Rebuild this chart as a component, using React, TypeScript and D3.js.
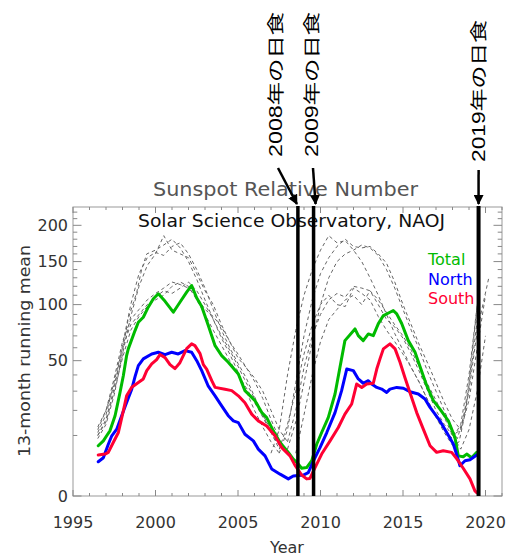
import React from 'react';
import * as d3 from 'd3';

type P = [number, number];

// ---- Data: 13-month running mean (year, value) ----
const totalSeries: P[] = [
  [1996.53, 6.9], [1996.84, 8.3], [1997.04, 9.9], [1997.24, 11.6], [1997.55, 17.6], [1997.85, 29.3],
  [1998.05, 39.5], [1998.25, 53.8], [1998.35, 59.1], [1998.76, 74.7], [1998.96, 82.4], [1999.26, 87.2],
  [1999.56, 97.3], [1999.87, 106.2], [2000.17, 111.6], [2000.58, 103.5], [2001.08, 92.2], [2001.48, 102.5],
  [2001.89, 113.4], [2002.19, 121], [2002.5, 107], [2002.8, 98], [2003.2, 79.3], [2003.61, 61.7],
  [2004.01, 53.8], [2004.41, 48.8], [2005.02, 40.6], [2005.42, 30.3], [2006.03, 24.8], [2006.44, 19.0],
  [2006.74, 16.8], [2007.14, 11.6], [2007.55, 7.8], [2008.05, 5.2], [2008.35, 3.7], [2008.56, 3.1],
  [2008.86, 2.1], [2009.16, 2.2], [2009.47, 3.4], [2009.77, 7.3], [2010.07, 11.0], [2010.47, 16.8],
  [2010.88, 28.4], [2011.18, 45.2], [2011.48, 65.9], [2012.09, 76.2], [2012.29, 70.2], [2012.59, 65.9],
  [2012.9, 71.7], [2013.2, 70.2], [2013.5, 80.9], [2013.81, 88.9], [2014.21, 92.2], [2014.41, 93.9],
  [2014.62, 90.6], [2014.92, 81.2], [2015.32, 65.9], [2015.73, 56.4], [2016.03, 45.7], [2016.44, 33.2],
  [2016.84, 24.8], [2017.24, 20.6], [2017.75, 15.4], [2018.15, 9.3], [2018.35, 4.4], [2018.65, 4.2],
  [2018.86, 4.8], [2019.16, 4.0], [2019.47, 5.2]
];

const northSeries: P[] = [
  [1996.53, 3.2], [1996.84, 4.0], [1997.14, 7.3], [1997.35, 9.9], [1997.65, 12.2], [1997.95, 17.6],
  [1998.25, 23.9], [1998.56, 31.2], [1998.76, 38.9], [1998.96, 46.4], [1999.26, 51.3], [1999.77, 55.1],
  [2000.17, 56.4], [2000.58, 54.6], [2000.98, 56.4], [2001.38, 55.1], [2001.79, 57.7], [2002.19, 56.4],
  [2002.5, 50], [2002.8, 42.9], [2003.2, 32.9], [2003.61, 27.4], [2004.01, 22.2], [2004.41, 17.6],
  [2004.72, 15.4], [2005.02, 14.7], [2005.42, 10.4], [2005.93, 8.3], [2006.23, 6.0], [2006.64, 4.4],
  [2007.04, 2.0], [2007.55, 1.3], [2008.05, 0.8], [2008.35, 1.1], [2008.96, 1.2], [2009.26, 1.5],
  [2009.56, 3.3], [2009.97, 6.4], [2010.38, 11.0], [2010.88, 19.0], [2011.28, 30.3], [2011.59, 44.0],
  [2011.99, 42.9], [2012.29, 37.4], [2012.59, 34.7], [2012.9, 36.3], [2013.1, 34.2], [2013.41, 32.2],
  [2013.71, 31.2], [2014.01, 29.3], [2014.21, 31.2], [2014.62, 32.2], [2015.02, 31.7], [2015.42, 29.7],
  [2015.93, 28.4], [2016.33, 25.7], [2016.64, 21.4], [2017.24, 15.4], [2017.65, 11.0], [2018.05, 7.4],
  [2018.35, 3.6], [2018.45, 2.5], [2018.76, 3.4], [2019.06, 3.6], [2019.47, 4.6]
];

const southSeries: P[] = [
  [1996.53, 4.6], [1996.94, 4.8], [1997.14, 5.2], [1997.44, 7.8], [1997.75, 11.0], [1998.05, 19.8],
  [1998.25, 27.4], [1998.56, 32.3], [1998.96, 35.2], [1999.26, 37.4], [1999.47, 42.9], [1999.77, 47.6],
  [2000.07, 50.8], [2000.27, 54.6], [2000.58, 52.3], [2000.88, 47.1], [2001.18, 44.3], [2001.48, 48.5],
  [2001.89, 59.3], [2002.19, 63.2], [2002.39, 61.7], [2002.7, 55.3], [2002.9, 47.1], [2003.1, 44.0],
  [2003.41, 36.3], [2003.61, 32.2], [2004.21, 31.1], [2004.62, 30.3], [2005.02, 27.4], [2005.42, 23.7],
  [2005.83, 18.3], [2006.23, 15.4], [2006.74, 13.4], [2007.24, 9.9], [2007.65, 6.4], [2008.15, 4.4],
  [2008.45, 2.6], [2008.86, 1.2], [2009.16, 0.8], [2009.36, 0.84], [2009.67, 2.2], [2010.07, 4.8],
  [2010.58, 8.3], [2011.08, 12.8], [2011.48, 18.3], [2011.89, 23.1], [2012.19, 34.2], [2012.5, 32.2],
  [2012.8, 34.2], [2013.2, 34.7], [2013.41, 44.0], [2013.61, 51.5], [2013.81, 59.1], [2014.21, 63.2],
  [2014.52, 59.1], [2014.82, 48.8], [2015.12, 38.2], [2015.42, 29.3], [2015.83, 19.0], [2016.23, 12.2],
  [2016.64, 6.9], [2017.04, 5.2], [2017.44, 5.6], [2017.95, 5.2], [2018.25, 3.8], [2018.65, 2.1],
  [2019.06, 0.8], [2019.36, 0.07], [2019.47, 0.03]
];

// ---- Past cycles (gray dashed), first group ----
const pastA1: P[] = [[1996.5, 12], [1997, 20], [1997.5, 34], [1997.85, 47], [1998.1, 65], [1998.35, 86], [1998.86, 113], [1999.16, 140], [1999.47, 160], [2000, 165], [2000.5, 172], [2001, 180], [2001.5, 168], [2002, 150], [2002.5, 128], [2003, 105], [2003.5, 85], [2004, 68], [2004.5, 55], [2005, 42], [2005.5, 30], [2006, 20], [2006.5, 13], [2007, 8], [2007.5, 5]];
const pastA2: P[] = [[1996.5, 10], [1997, 16], [1997.5, 32], [1998, 62], [1998.5, 100], [1999, 135], [1999.5, 155], [2000, 162], [2000.5, 158], [2001, 170], [2001.5, 175], [2002, 160], [2002.5, 140], [2003, 118], [2003.5, 95], [2004, 75], [2004.5, 60], [2005, 48], [2005.5, 38], [2006, 27], [2006.5, 18], [2007, 11], [2007.5, 7]];
const pastA3: P[] = [[1996.5, 9], [1997, 14], [1997.5, 28], [1998, 55], [1998.5, 88], [1999, 120], [1999.5, 145], [2000, 160], [2000.5, 185], [2001, 165], [2001.5, 160], [2002, 155], [2002.5, 135], [2003, 115], [2003.5, 100], [2004, 80], [2004.5, 65], [2005, 52], [2005.5, 45], [2006, 38], [2006.5, 30], [2007, 20], [2007.5, 12], [2008, 8]];
const pastA4: P[] = [[1996.5, 11], [1997, 18], [1997.5, 36], [1998, 60], [1998.5, 80], [1999, 90], [1999.5, 100], [2000, 108], [2000.5, 115], [2001, 112], [2001.5, 118], [2002, 125], [2002.5, 115], [2003, 100], [2003.5, 85], [2004, 70], [2004.5, 58], [2005, 46], [2005.5, 35], [2006, 26], [2006.5, 18], [2007, 12], [2007.5, 8]];
const pastA5: P[] = [[1996.5, 13], [1997, 20], [1997.5, 38], [1998, 65], [1998.5, 85], [1999, 95], [1999.5, 105], [2000, 112], [2000.5, 118], [2001, 125], [2001.5, 122], [2002, 118], [2002.5, 108], [2003, 95], [2003.5, 88], [2004, 78], [2004.5, 65], [2005, 55], [2005.5, 45], [2006, 36], [2006.5, 26], [2007, 16], [2007.5, 9]];
const pastA6: P[] = [[1996.5, 10], [1997, 15], [1997.5, 30], [1998, 52], [1998.5, 75], [1999, 88], [1999.5, 98], [2000, 105], [2000.5, 110], [2001, 120], [2001.5, 125], [2002, 120], [2002.5, 105], [2003, 90], [2003.5, 75], [2004, 62], [2004.5, 50], [2005, 40], [2005.5, 32], [2006, 24], [2006.5, 17], [2007, 11], [2007.5, 6]];

// ---- Past cycles (gray dashed), second group ----
const pastB1: P[] = [[2007, 5], [2007.5, 12], [2008, 40], [2008.5, 75], [2009, 110], [2009.5, 140], [2010, 165], [2010.5, 185], [2011, 175], [2011.5, 178], [2012, 165], [2012.5, 150], [2013, 130], [2013.5, 110], [2014, 90], [2014.5, 72], [2015, 58], [2015.5, 45], [2016, 35], [2016.5, 25], [2017, 17], [2017.5, 12], [2018, 9], [2018.5, 14], [2019, 40], [2019.5, 100]];
const pastB2: P[] = [[2007.5, 5], [2008, 12], [2008.5, 35], [2009, 70], [2009.5, 105], [2010, 135], [2010.5, 155], [2011, 170], [2011.5, 180], [2012, 170], [2012.5, 168], [2013, 170], [2013.5, 160], [2014, 148], [2014.5, 125], [2015, 100], [2015.5, 80], [2016, 62], [2016.5, 48], [2017, 35], [2017.5, 24], [2018, 16], [2018.5, 12], [2019, 25], [2019.5, 60], [2020, 110]];
const pastB3: P[] = [[2008, 6], [2008.5, 15], [2009, 35], [2009.5, 65], [2010, 100], [2010.5, 130], [2011, 150], [2011.5, 160], [2012, 165], [2012.5, 172], [2013, 168], [2013.5, 158], [2014, 140], [2014.5, 118], [2015, 95], [2015.5, 75], [2016, 58], [2016.5, 42], [2017, 30], [2017.5, 20], [2018, 12], [2018.3, 9], [2018.7, 18], [2019, 35], [2019.3, 70], [2019.6, 115]];
const pastB4: P[] = [[2007.5, 6], [2008, 14], [2008.5, 30], [2009, 55], [2009.5, 80], [2010, 100], [2010.5, 110], [2011, 100], [2011.5, 98], [2012, 118], [2012.5, 112], [2013, 105], [2013.5, 88], [2014, 75], [2014.5, 65], [2015, 55], [2015.5, 45], [2016, 35], [2016.5, 25], [2017, 17], [2017.5, 11], [2018, 7], [2018.4, 8], [2018.8, 20], [2019.2, 50], [2019.5, 85]];
const pastB5: P[] = [[2008, 8], [2008.5, 20], [2009, 45], [2009.5, 70], [2010, 90], [2010.5, 105], [2011, 112], [2011.5, 108], [2012, 120], [2012.5, 118], [2013, 115], [2013.5, 100], [2014, 85], [2014.5, 78], [2015, 68], [2015.5, 55], [2016, 42], [2016.5, 30], [2017, 20], [2017.5, 14], [2018, 10], [2018.5, 12], [2019, 30], [2019.5, 75], [2020.2, 130]];
const pastB6: P[] = [[2008.5, 5], [2009, 18], [2009.5, 40], [2010, 65], [2010.5, 85], [2011, 95], [2011.5, 105], [2012, 110], [2012.5, 100], [2013, 115], [2013.5, 105], [2014, 92], [2014.5, 80], [2015, 70], [2015.5, 58], [2016, 45], [2016.5, 34], [2017, 25], [2017.5, 17], [2018, 10], [2018.5, 6], [2019, 12], [2019.5, 30], [2020, 70]];

const pastCycles: P[][] = [pastA1, pastA2, pastA3, pastA4, pastA5, pastA6, pastB1, pastB2, pastB3, pastB4, pastB5, pastB6];

// ---- Axes ----
const yMajorTicks = [0, 50, 100, 150, 200];
const yMinorTicks = [10, 20, 30, 40, 60, 70, 80, 90, 110, 120, 130, 140, 160, 170, 180, 190, 210, 220];
const xMajorTicks = [1995, 2000, 2005, 2010, 2015, 2020];
const xMinorTicks = d3.range(1995, 2022);

// ---- Eclipses ----
const eclipseYears = [2008.63, 2009.58, 2019.58];
const eclipseLabels = ['2008年の日食', '2009年の日食', '2019年の日食'];

const legendNames = ['Total', 'North', 'South'];
const seriesColors = ['#00bb00', '#0000ff', '#ff0033'];

export default function App() {
  const L = 73, R = 502, T = 207, B = 496;
  const x = d3.scaleLinear().domain([1995, 2021]).range([L, R]);
  const y = d3.scaleSqrt().domain([0, 228]).range([B, T]);
  const line = d3.line<P>().x(d => x(d[0])).y(d => y(d[1]));

  const labelCx = [276, 311.5, 478.5];
  const labelBottom = [157, 157, 162];
  const labelLen = [145, 145, 142];
  const arrowStart: P[] = [[278, 168], [313, 168], [478.6, 170]];
  const tickFont = 'DejaVu Sans, Verdana, sans-serif';
  const jpFont = 'Liberation Sans, Arial, Noto Sans CJK JP, sans-serif';

  return (
    <svg width={507} height={556} style={{ position: 'absolute', left: 0, top: 0, background: '#fff' }}>
      <defs>
        <marker id="ah" viewBox="0 0 10 10" refX="9" refY="5" markerWidth="4" markerHeight="4" orient="auto">
          <path d="M0,0 L10,5 L0,10 z" fill="#000" />
        </marker>
      </defs>
      <rect x={0} y={0} width={507} height={556} fill="#fff" />

      {/* dashed past cycles */}
      <g fill="none" stroke="#666" strokeWidth={1} strokeDasharray="3.5,3">
        {pastCycles.map((c, i) => <path key={i} d={line(c) || ''} />)}
      </g>

      {/* series */}
      <g fill="none" strokeWidth={3} strokeLinejoin="round" strokeLinecap="round">
        <path d={line(totalSeries) || ''} stroke={seriesColors[0]} />
        <path d={line(northSeries) || ''} stroke={seriesColors[1]} />
        <path d={line(southSeries) || ''} stroke={seriesColors[2]} />
      </g>

      {/* frame and ticks */}
      <rect x={L} y={T} width={R - L} height={B - T} fill="none" stroke="#999" strokeWidth={1} />
      <g stroke="#888" strokeWidth={1}>
        {yMajorTicks.map(v => (
          <g key={'ym' + v}>
            <line x1={L} x2={L + 8.5} y1={y(v)} y2={y(v)} />
            <line x1={R} x2={R - 8.5} y1={y(v)} y2={y(v)} />
          </g>
        ))}
        {yMinorTicks.map(v => (
          <g key={'yn' + v}>
            <line x1={L} x2={L + 4.3} y1={y(v)} y2={y(v)} />
            <line x1={R} x2={R - 4.3} y1={y(v)} y2={y(v)} />
          </g>
        ))}
        {xMinorTicks.map(v => {
          const len = xMajorTicks.includes(v) ? 6 : 3;
          return (
            <g key={'xt' + v}>
              <line x1={x(v)} x2={x(v)} y1={B} y2={B - len} />
              <line x1={x(v)} x2={x(v)} y1={T} y2={T + len} />
            </g>
          );
        })}
      </g>

      {/* tick labels */}
      <g fontFamily={tickFont} fontSize={16} fill="#333">
        {yMajorTicks.map(v => (
          <text key={'yl' + v} x={68} y={y(v)} textAnchor="end" dominantBaseline="central">{v}</text>
        ))}
        {xMajorTicks.map(v => (
          <text key={'xl' + v} x={x(v)} y={528} textAnchor="middle">{v}</text>
        ))}
        <text x={287} y={553} textAnchor="middle">Year</text>
        <text transform={`translate(24,351) rotate(-90)`} textAnchor="middle" dominantBaseline="central"
          textLength={212} lengthAdjust="spacingAndGlyphs">13-month running mean</text>
      </g>

      {/* titles */}
      <text x={285.5} y={196} textAnchor="middle" fontFamily={tickFont} fontSize={19} fill="#555"
        textLength={265} lengthAdjust="spacingAndGlyphs">Sunspot Relative Number</text>
      <text x={291.5} y={227} textAnchor="middle" fontFamily={tickFont} fontSize={17.5} fill="#111"
        textLength={307} lengthAdjust="spacingAndGlyphs">Solar Science Observatory, NAOJ</text>

      {/* legend */}
      <g fontFamily={tickFont} fontSize={16}>
        {legendNames.map((n, i) => (
          <text key={n} x={428} y={265 + i * 19.5} fill={seriesColors[i]}>{n}</text>
        ))}
      </g>

      {/* eclipse lines */}
      <g stroke="#000">
        {eclipseYears.map((e, i) => (
          <line key={'el' + i} x1={x(e)} x2={x(e)} y1={T - 1} y2={B} strokeWidth={i === 2 ? 4 : 3.5} />
        ))}
        {eclipseYears.map((e, i) => (
          <line key={'ea' + i} x1={arrowStart[i][0]} y1={arrowStart[i][1]} x2={x(e) + (i === 0 ? -1 : i === 1 ? 2 : 0)} y2={204}
            strokeWidth={2.5} markerEnd="url(#ah)" />
        ))}
      </g>
      <g fontFamily={jpFont} fontSize={17.5} fill="#000">
        {eclipseLabels.map((t, i) => (
          <text key={t} transform={`translate(${labelCx[i]},${labelBottom[i]}) rotate(-90)`} dominantBaseline="central"
            textLength={labelLen[i]} lengthAdjust="spacingAndGlyphs">{t}</text>
        ))}
      </g>
    </svg>
  );
}
